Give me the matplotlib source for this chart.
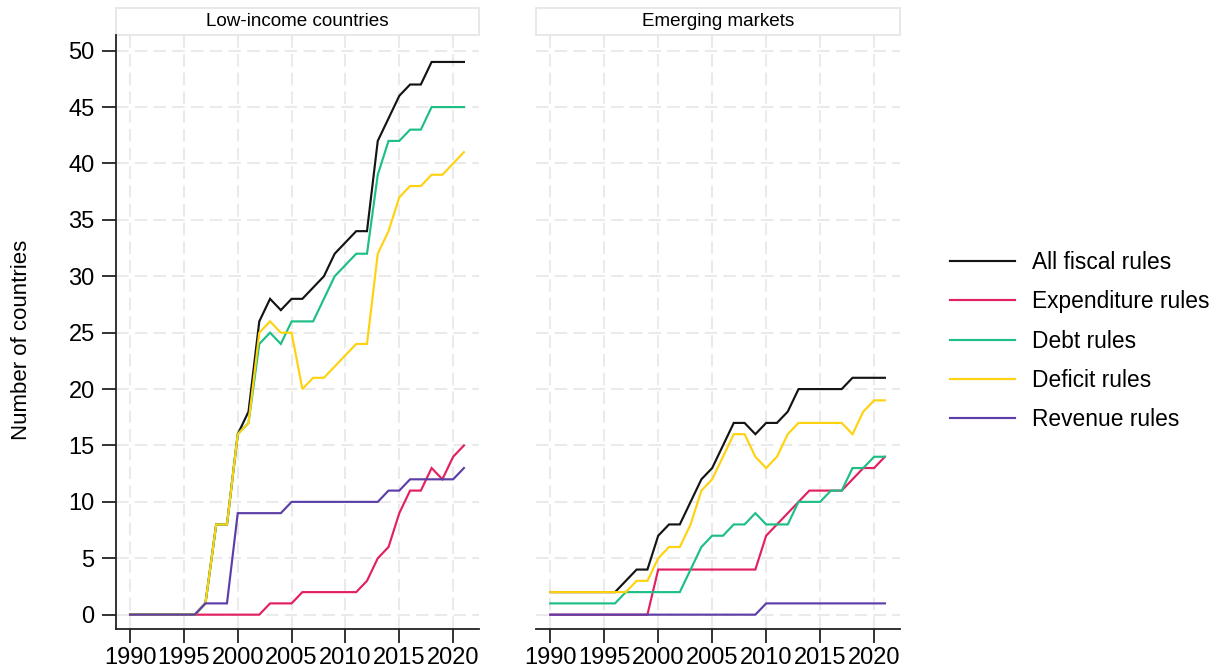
import numpy as np
import matplotlib
matplotlib.use("Agg")
import matplotlib.pyplot as plt
from matplotlib.patches import Rectangle

plt.rcParams["font.family"] = ["Liberation Sans", "DejaVu Sans"]

years = np.arange(1990, 2022)

# Low-income countries
lic_all = [0, 0, 0, 0, 0, 0, 0, 1, 8, 8, 16, 18, 26, 28, 27, 28, 28, 29, 30, 32,
           33, 34, 34, 42, 44, 46, 47, 47, 49, 49, 49, 49]
lic_exp = [0, 0, 0, 0, 0, 0, 0, 0, 0, 0, 0, 0, 0, 1, 1, 1, 2, 2, 2, 2,
           2, 2, 3, 5, 6, 9, 11, 11, 13, 12, 14, 15]
lic_debt = [0, 0, 0, 0, 0, 0, 0, 1, 8, 8, 16, 17, 24, 25, 24, 26, 26, 26, 28, 30,
            31, 32, 32, 39, 42, 42, 43, 43, 45, 45, 45, 45]
lic_def = [0, 0, 0, 0, 0, 0, 0, 1, 8, 8, 16, 17, 25, 26, 25, 25, 20, 21, 21, 22,
           23, 24, 24, 32, 34, 37, 38, 38, 39, 39, 40, 41]
lic_rev = [0, 0, 0, 0, 0, 0, 0, 1, 1, 1, 9, 9, 9, 9, 9, 10, 10, 10, 10, 10,
           10, 10, 10, 10, 11, 11, 12, 12, 12, 12, 12, 13]

# Emerging markets
em_all = [2, 2, 2, 2, 2, 2, 2, 3, 4, 4, 7, 8, 8, 10, 12, 13, 15, 17, 17, 16,
          17, 17, 18, 20, 20, 20, 20, 20, 21, 21, 21, 21]
em_exp = [0, 0, 0, 0, 0, 0, 0, 0, 0, 0, 4, 4, 4, 4, 4, 4, 4, 4, 4, 4,
          7, 8, 9, 10, 11, 11, 11, 11, 12, 13, 13, 14]
em_debt = [1, 1, 1, 1, 1, 1, 1, 2, 2, 2, 2, 2, 2, 4, 6, 7, 7, 8, 8, 9,
           8, 8, 8, 10, 10, 10, 11, 11, 13, 13, 14, 14]
em_def = [2, 2, 2, 2, 2, 2, 2, 2, 3, 3, 5, 6, 6, 8, 11, 12, 14, 16, 16, 14,
          13, 14, 16, 17, 17, 17, 17, 17, 16, 18, 19, 19]
em_rev = [0, 0, 0, 0, 0, 0, 0, 0, 0, 0, 0, 0, 0, 0, 0, 0, 0, 0, 0, 0,
          1, 1, 1, 1, 1, 1, 1, 1, 1, 1, 1, 1]

labels = ["All fiscal rules", "Expenditure rules", "Debt rules",
          "Deficit rules", "Revenue rules"]
colors = ["#141414", "#E3205F", "#1DBF84", "#FFD20F", "#5C3EA8"]
panels = [("Low-income countries", [lic_all, lic_exp, lic_debt, lic_def, lic_rev]),
          ("Emerging markets", [em_all, em_exp, em_debt, em_def, em_rev])]

W, H = 1227, 670
fig = plt.figure(figsize=(W / 100, H / 100), dpi=100)
ax1 = fig.add_axes([115.5 / W, (H - 629) / H, 363.5 / W, 594 / H])
ax2 = fig.add_axes([535.7 / W, (H - 629) / H, 364.3 / W, 594 / H], sharey=ax1)

for ax, (title, series) in zip([ax1, ax2], panels):
    for vals, lab, col in zip(series, labels, colors):
        ax.plot(years, vals, color=col, lw=1.55, label=lab, solid_joinstyle="miter")
    ax.set_xlim(1988.65, 2022.4)
    ax.set_ylim(-1.27, 51.39)
    ax.set_xticks(np.arange(1990, 2021, 5))
    ax.set_yticks(np.arange(0, 51, 5))
    ax.set_axisbelow(True)
    ax.grid(True, color="#EAEAEA", linestyle=(0, (6, 3)), linewidth=1.5)
    for s in ["top", "right"]:
        ax.spines[s].set_visible(False)
    ax.spines["bottom"].set_color("#222222")
    ax.spines["bottom"].set_linewidth(1.3)
    ax.spines["left"].set_color("#222222")
    ax.spines["left"].set_linewidth(1.3)
    ax.tick_params(axis="both", labelsize=17, length=10, width=1.3,
                   color="#222222", pad=3)
    ax.tick_params(axis="y", pad=5)
    sh = 27 / 594
    ax.add_patch(Rectangle((0, 1), 1, sh, transform=ax.transAxes, clip_on=False,
                           facecolor="white", edgecolor="#E6E6E6", lw=1.3))
    ax.text(0.5, 1 + sh / 2, title, transform=ax.transAxes, ha="center",
            va="center", fontsize=13.6)

ax2.spines["left"].set_visible(False)
ax2.tick_params(axis="y", length=0, labelleft=False)

fig.text(22 / W, 1 - 340 / H, "Number of countries", rotation=90,
         ha="center", va="center", fontsize=16)

handles, labs = ax1.get_legend_handles_labels()
fig.legend(handles, labs, loc="center left", bbox_to_anchor=(950 / W, 1 - 341 / H),
           frameon=False, fontsize=16.4, handlelength=2.86, handletextpad=0.75,
           labelspacing=0.72, borderpad=0, borderaxespad=0)

fig.savefig("out.png", dpi=100)
